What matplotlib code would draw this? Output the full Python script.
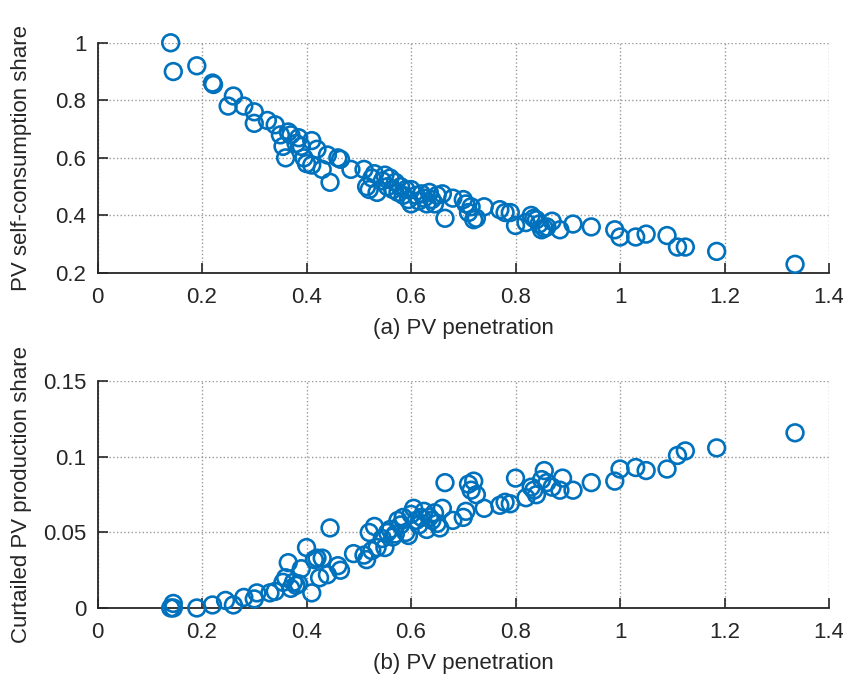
import matplotlib
matplotlib.use("Agg")
import matplotlib.pyplot as plt

# (a) PV penetration vs PV self-consumption share
pen_a = [0.14, 0.145, 0.19, 0.22, 0.222, 0.25, 0.26, 0.28, 0.30, 0.30,
         0.325, 0.34, 0.35, 0.355, 0.36, 0.365, 0.37, 0.38, 0.385, 0.39,
         0.395, 0.40, 0.41, 0.41, 0.42, 0.43, 0.44, 0.445, 0.46, 0.465,
         0.485, 0.51, 0.515, 0.52, 0.525, 0.53, 0.535, 0.545, 0.55, 0.555,
         0.56, 0.565, 0.57, 0.575, 0.58, 0.585, 0.59, 0.595, 0.60, 0.60,
         0.61, 0.615, 0.62, 0.625, 0.63, 0.635, 0.64, 0.645, 0.65, 0.66,
         0.665, 0.68, 0.70, 0.705, 0.71, 0.715, 0.72, 0.725, 0.74, 0.77,
         0.78, 0.79, 0.80, 0.82, 0.83, 0.835, 0.84, 0.845, 0.85, 0.855,
         0.86, 0.87, 0.885, 0.91, 0.945, 0.99, 1.0, 1.03, 1.05, 1.09,
         1.11, 1.125, 1.185, 1.335]
share_a = [1.0, 0.90, 0.92, 0.86, 0.855, 0.78, 0.815, 0.78, 0.76, 0.72,
           0.73, 0.715, 0.68, 0.64, 0.60, 0.69, 0.68, 0.65, 0.67, 0.64,
           0.60, 0.58, 0.66, 0.575, 0.63, 0.56, 0.61, 0.515, 0.60, 0.595,
           0.56, 0.56, 0.50, 0.49, 0.53, 0.545, 0.48, 0.52, 0.54, 0.50,
           0.53, 0.49, 0.515, 0.48, 0.50, 0.47, 0.49, 0.455, 0.49, 0.44,
           0.47, 0.45, 0.475, 0.46, 0.44, 0.48, 0.455, 0.44, 0.47, 0.475,
           0.39, 0.46, 0.455, 0.44, 0.41, 0.43, 0.385, 0.39, 0.43, 0.42,
           0.41, 0.41, 0.365, 0.375, 0.40, 0.39, 0.385, 0.37, 0.35, 0.355,
           0.36, 0.38, 0.35, 0.37, 0.36, 0.35, 0.325, 0.325, 0.335, 0.33,
           0.29, 0.29, 0.275, 0.23]

# (b) PV penetration vs curtailed PV production share
pen_b = [0.14, 0.145, 0.145, 0.19, 0.22, 0.245, 0.26, 0.28, 0.30, 0.305,
         0.33, 0.34, 0.355, 0.36, 0.365, 0.37, 0.375, 0.38, 0.385, 0.39,
         0.40, 0.41, 0.415, 0.42, 0.425, 0.43, 0.44, 0.445, 0.46, 0.465,
         0.49, 0.51, 0.515, 0.52, 0.525, 0.53, 0.535, 0.545, 0.55, 0.555,
         0.56, 0.565, 0.57, 0.575, 0.58, 0.585, 0.59, 0.595, 0.60, 0.605,
         0.61, 0.615, 0.62, 0.625, 0.63, 0.635, 0.64, 0.645, 0.65, 0.655,
         0.66, 0.665, 0.68, 0.70, 0.705, 0.71, 0.715, 0.72, 0.725, 0.74,
         0.77, 0.78, 0.79, 0.80, 0.82, 0.83, 0.835, 0.84, 0.85, 0.855,
         0.86, 0.87, 0.885, 0.89, 0.91, 0.945, 0.99, 1.0, 1.03, 1.05,
         1.09, 1.11, 1.125, 1.185, 1.335]
share_b = [0.0, 0.003, 0.0, 0.0, 0.002, 0.005, 0.002, 0.007, 0.006, 0.010,
           0.010, 0.011, 0.017, 0.020, 0.030, 0.013, 0.017, 0.015, 0.016, 0.026,
           0.040, 0.010, 0.032, 0.033, 0.020, 0.033, 0.022, 0.053, 0.028, 0.025,
           0.036, 0.035, 0.032, 0.050, 0.038, 0.054, 0.040, 0.046, 0.040, 0.050,
           0.052, 0.047, 0.049, 0.058, 0.055, 0.060, 0.050, 0.048, 0.062, 0.066,
           0.058, 0.055, 0.060, 0.064, 0.052, 0.060, 0.058, 0.063, 0.056, 0.053,
           0.066, 0.083, 0.058, 0.060, 0.064, 0.082, 0.078, 0.084, 0.075, 0.066,
           0.068, 0.070, 0.069, 0.086, 0.073, 0.080, 0.078, 0.075, 0.085, 0.091,
           0.083, 0.080, 0.078, 0.086, 0.078, 0.083, 0.084, 0.092, 0.093, 0.091,
           0.092, 0.101, 0.104, 0.106, 0.116]

plt.rcParams['font.family'] = ['Liberation Sans', 'DejaVu Sans']
blue = "#0072BD"
dark = "#262626"

fig = plt.figure(figsize=(8.43, 6.79), dpi=100)
ax_a = fig.add_axes([0.1157, 0.598, 0.8677, 0.339])
ax_b = fig.add_axes([0.1157, 0.1046, 0.8677, 0.3336])


def style_axes(ax, ylim, yticks, ytick_labels):
    ax.set_xlim(0, 1.4)
    ax.set_ylim(*ylim)
    ax.set_xticks([0, 0.2, 0.4, 0.6, 0.8, 1.0, 1.2, 1.4])
    ax.set_xticklabels(["0", "0.2", "0.4", "0.6", "0.8", "1", "1.2", "1.4"])
    ax.set_yticks(yticks)
    ax.set_yticklabels(ytick_labels)
    ax.grid(True, linestyle=":", color="#9a9a9a", linewidth=1.0)
    ax.set_axisbelow(True)
    for side in ("top", "right"):
        ax.spines[side].set_visible(False)
    for side in ("left", "bottom"):
        ax.spines[side].set_color(dark)
        ax.spines[side].set_linewidth(1.3)
    ax.tick_params(direction="in", length=7, width=1.2, colors=dark,
                   labelsize=16, labelcolor=dark)
    ax.tick_params(axis="x", pad=10)
    ax.tick_params(axis="y", pad=8)


ax_a.scatter(pen_a, share_a, s=145, facecolors="none", edgecolors=blue,
             linewidths=1.9, clip_on=False, zorder=3)
style_axes(ax_a, (0.2, 1.0), [0.2, 0.4, 0.6, 0.8, 1.0],
           ["0.2", "0.4", "0.6", "0.8", "1"])
ax_a.set_xlabel("(a) PV penetration", fontsize=16, color=dark, labelpad=7)
ax_a.set_ylabel("PV self-consumption share", fontsize=16, color=dark)

ax_b.scatter(pen_b, share_b, s=145, facecolors="none", edgecolors=blue,
             linewidths=1.9, clip_on=False, zorder=3)
style_axes(ax_b, (0, 0.15), [0, 0.05, 0.1, 0.15],
           ["0", "0.05", "0.1", "0.15"])
ax_b.set_xlabel("(b) PV penetration", fontsize=16, color=dark, labelpad=7)
ax_b.set_ylabel("Curtailed PV production share", fontsize=16, color=dark)

for ax in (ax_a, ax_b):
    ax.yaxis.set_label_coords(-0.09, 0.5)

fig.savefig("out.png", dpi=100)
